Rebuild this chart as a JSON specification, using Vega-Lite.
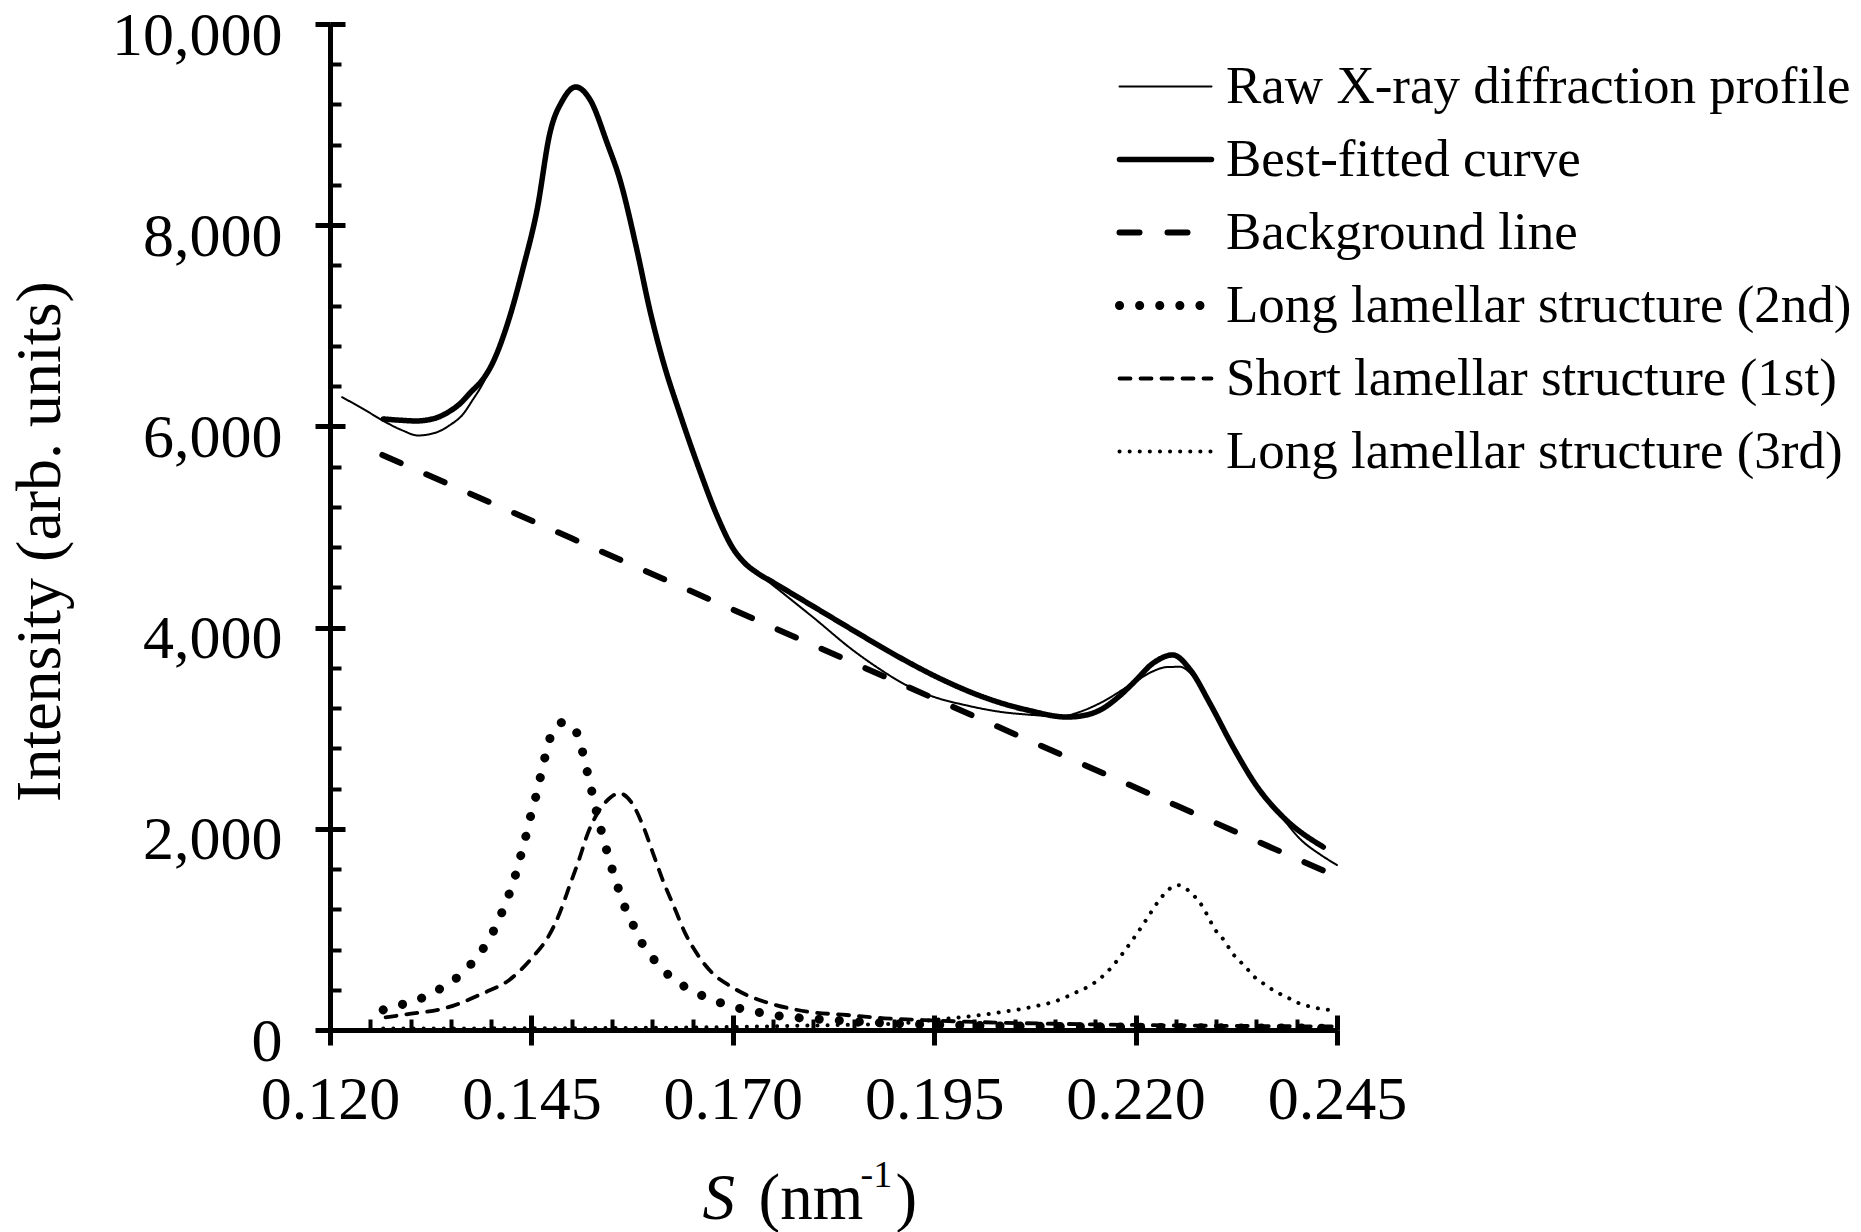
{
  "$schema": "https://vega.github.io/schema/vega-lite/v6.json",
  "width": 1007,
  "height": 1006,
  "autosize": {"type": "none"},
  "padding": {"left": 330, "top": 24, "right": 524, "bottom": 202},
  "background": "white",
  "config": {"view": {"stroke": null}, "axis": {"grid": false, "domainColor": "black", "tickColor": "black", "labelColor": "black", "titleColor": "black", "labelFont": "Liberation Serif", "titleFont": "Liberation Serif", "titleFontWeight": "normal"}},
  "data": {"values": [
    {"S": 0.1215, "I": 6290, "series": "Raw X-ray diffraction profile"},
    {"S": 0.124, "I": 6180, "series": "Raw X-ray diffraction profile"},
    {"S": 0.1265, "I": 6060, "series": "Raw X-ray diffraction profile"},
    {"S": 0.129, "I": 5960, "series": "Raw X-ray diffraction profile"},
    {"S": 0.1309, "I": 5910, "series": "Raw X-ray diffraction profile"},
    {"S": 0.133, "I": 5935, "series": "Raw X-ray diffraction profile"},
    {"S": 0.1349, "I": 6014, "series": "Raw X-ray diffraction profile"},
    {"S": 0.1365, "I": 6120, "series": "Raw X-ray diffraction profile"},
    {"S": 0.1377, "I": 6262, "series": "Raw X-ray diffraction profile"},
    {"S": 0.139, "I": 6430, "series": "Raw X-ray diffraction profile"},
    {"S": 0.1402, "I": 6640, "series": "Raw X-ray diffraction profile"},
    {"S": 0.1423, "I": 7060, "series": "Raw X-ray diffraction profile"},
    {"S": 0.144, "I": 7560, "series": "Raw X-ray diffraction profile"},
    {"S": 0.1457, "I": 8150, "series": "Raw X-ray diffraction profile"},
    {"S": 0.1473, "I": 8880, "series": "Raw X-ray diffraction profile"},
    {"S": 0.1489, "I": 9230, "series": "Raw X-ray diffraction profile"},
    {"S": 0.1505, "I": 9360, "series": "Raw X-ray diffraction profile"},
    {"S": 0.1523, "I": 9230, "series": "Raw X-ray diffraction profile"},
    {"S": 0.1544, "I": 8790, "series": "Raw X-ray diffraction profile"},
    {"S": 0.156, "I": 8420, "series": "Raw X-ray diffraction profile"},
    {"S": 0.1581, "I": 7720, "series": "Raw X-ray diffraction profile"},
    {"S": 0.1597, "I": 7130, "series": "Raw X-ray diffraction profile"},
    {"S": 0.1613, "I": 6630, "series": "Raw X-ray diffraction profile"},
    {"S": 0.1635, "I": 6090, "series": "Raw X-ray diffraction profile"},
    {"S": 0.1659, "I": 5540, "series": "Raw X-ray diffraction profile"},
    {"S": 0.168, "I": 5100, "series": "Raw X-ray diffraction profile"},
    {"S": 0.17, "I": 4770, "series": "Raw X-ray diffraction profile"},
    {"S": 0.1715, "I": 4630, "series": "Raw X-ray diffraction profile"},
    {"S": 0.1734, "I": 4520, "series": "Raw X-ray diffraction profile"},
    {"S": 0.175, "I": 4420, "series": "Raw X-ray diffraction profile"},
    {"S": 0.18, "I": 4100, "series": "Raw X-ray diffraction profile"},
    {"S": 0.185, "I": 3770, "series": "Raw X-ray diffraction profile"},
    {"S": 0.188, "I": 3600, "series": "Raw X-ray diffraction profile"},
    {"S": 0.1908, "I": 3460, "series": "Raw X-ray diffraction profile"},
    {"S": 0.193, "I": 3370, "series": "Raw X-ray diffraction profile"},
    {"S": 0.195, "I": 3310, "series": "Raw X-ray diffraction profile"},
    {"S": 0.1991, "I": 3225, "series": "Raw X-ray diffraction profile"},
    {"S": 0.203, "I": 3165, "series": "Raw X-ray diffraction profile"},
    {"S": 0.2073, "I": 3131, "series": "Raw X-ray diffraction profile"},
    {"S": 0.2106, "I": 3115, "series": "Raw X-ray diffraction profile"},
    {"S": 0.213, "I": 3160, "series": "Raw X-ray diffraction profile"},
    {"S": 0.2156, "I": 3250, "series": "Raw X-ray diffraction profile"},
    {"S": 0.2197, "I": 3449, "series": "Raw X-ray diffraction profile"},
    {"S": 0.222, "I": 3560, "series": "Raw X-ray diffraction profile"},
    {"S": 0.2239, "I": 3608, "series": "Raw X-ray diffraction profile"},
    {"S": 0.2255, "I": 3610, "series": "Raw X-ray diffraction profile"},
    {"S": 0.2271, "I": 3520, "series": "Raw X-ray diffraction profile"},
    {"S": 0.229, "I": 3270, "series": "Raw X-ray diffraction profile"},
    {"S": 0.2321, "I": 2790, "series": "Raw X-ray diffraction profile"},
    {"S": 0.2354, "I": 2390, "series": "Raw X-ray diffraction profile"},
    {"S": 0.238, "I": 2130, "series": "Raw X-ray diffraction profile"},
    {"S": 0.2404, "I": 1900, "series": "Raw X-ray diffraction profile"},
    {"S": 0.243, "I": 1740, "series": "Raw X-ray diffraction profile"},
    {"S": 0.245, "I": 1640, "series": "Raw X-ray diffraction profile"},

    {"S": 0.1266, "I": 6074, "series": "Best-fitted curve"},
    {"S": 0.129, "I": 6060, "series": "Best-fitted curve"},
    {"S": 0.1307, "I": 6054, "series": "Best-fitted curve"},
    {"S": 0.133, "I": 6080, "series": "Best-fitted curve"},
    {"S": 0.1347, "I": 6143, "series": "Best-fitted curve"},
    {"S": 0.1362, "I": 6230, "series": "Best-fitted curve"},
    {"S": 0.1375, "I": 6342, "series": "Best-fitted curve"},
    {"S": 0.139, "I": 6470, "series": "Best-fitted curve"},
    {"S": 0.14, "I": 6600, "series": "Best-fitted curve"},
    {"S": 0.1423, "I": 7088, "series": "Best-fitted curve"},
    {"S": 0.144, "I": 7584, "series": "Best-fitted curve"},
    {"S": 0.1457, "I": 8151, "series": "Best-fitted curve"},
    {"S": 0.1473, "I": 8917, "series": "Best-fitted curve"},
    {"S": 0.1489, "I": 9245, "series": "Best-fitted curve"},
    {"S": 0.1505, "I": 9374, "series": "Best-fitted curve"},
    {"S": 0.1523, "I": 9245, "series": "Best-fitted curve"},
    {"S": 0.1544, "I": 8817, "series": "Best-fitted curve"},
    {"S": 0.156, "I": 8449, "series": "Best-fitted curve"},
    {"S": 0.1581, "I": 7753, "series": "Best-fitted curve"},
    {"S": 0.1597, "I": 7157, "series": "Best-fitted curve"},
    {"S": 0.1613, "I": 6660, "series": "Best-fitted curve"},
    {"S": 0.1635, "I": 6110, "series": "Best-fitted curve"},
    {"S": 0.1659, "I": 5560, "series": "Best-fitted curve"},
    {"S": 0.168, "I": 5120, "series": "Best-fitted curve"},
    {"S": 0.17, "I": 4790, "series": "Best-fitted curve"},
    {"S": 0.1715, "I": 4640, "series": "Best-fitted curve"},
    {"S": 0.173, "I": 4545, "series": "Best-fitted curve"},
    {"S": 0.175, "I": 4450, "series": "Best-fitted curve"},
    {"S": 0.1775, "I": 4330, "series": "Best-fitted curve"},
    {"S": 0.18, "I": 4210, "series": "Best-fitted curve"},
    {"S": 0.185, "I": 3970, "series": "Best-fitted curve"},
    {"S": 0.19, "I": 3735, "series": "Best-fitted curve"},
    {"S": 0.1961, "I": 3479, "series": "Best-fitted curve"},
    {"S": 0.2011, "I": 3310, "series": "Best-fitted curve"},
    {"S": 0.2065, "I": 3181, "series": "Best-fitted curve"},
    {"S": 0.2115, "I": 3111, "series": "Best-fitted curve"},
    {"S": 0.2135, "I": 3125, "series": "Best-fitted curve"},
    {"S": 0.2156, "I": 3181, "series": "Best-fitted curve"},
    {"S": 0.218, "I": 3320, "series": "Best-fitted curve"},
    {"S": 0.2197, "I": 3449, "series": "Best-fitted curve"},
    {"S": 0.2222, "I": 3648, "series": "Best-fitted curve"},
    {"S": 0.2246, "I": 3728, "series": "Best-fitted curve"},
    {"S": 0.2268, "I": 3579, "series": "Best-fitted curve"},
    {"S": 0.2292, "I": 3250, "series": "Best-fitted curve"},
    {"S": 0.2321, "I": 2813, "series": "Best-fitted curve"},
    {"S": 0.2351, "I": 2416, "series": "Best-fitted curve"},
    {"S": 0.2383, "I": 2117, "series": "Best-fitted curve"},
    {"S": 0.2433, "I": 1819, "series": "Best-fitted curve"},

    {"S": 0.1265, "I": 5716, "series": "Background line"},
    {"S": 0.15, "I": 4887, "series": "Background line"},
    {"S": 0.175, "I": 4002, "series": "Background line"},
    {"S": 0.2, "I": 3118, "series": "Background line"},
    {"S": 0.225, "I": 2233, "series": "Background line"},
    {"S": 0.245, "I": 1525, "series": "Background line"},

    {"S": 0.1266, "I": 200, "series": "Long lamellar structure (2nd)"},
    {"S": 0.1294, "I": 265, "series": "Long lamellar structure (2nd)"},
    {"S": 0.132, "I": 338, "series": "Long lamellar structure (2nd)"},
    {"S": 0.1342, "I": 437, "series": "Long lamellar structure (2nd)"},
    {"S": 0.1364, "I": 563, "series": "Long lamellar structure (2nd)"},
    {"S": 0.1382, "I": 722, "series": "Long lamellar structure (2nd)"},
    {"S": 0.1397, "I": 895, "series": "Long lamellar structure (2nd)"},
    {"S": 0.1409, "I": 1087, "series": "Long lamellar structure (2nd)"},
    {"S": 0.1419, "I": 1282, "series": "Long lamellar structure (2nd)"},
    {"S": 0.1428, "I": 1481, "series": "Long lamellar structure (2nd)"},
    {"S": 0.1435, "I": 1683, "series": "Long lamellar structure (2nd)"},
    {"S": 0.1442, "I": 1889, "series": "Long lamellar structure (2nd)"},
    {"S": 0.1448, "I": 2094, "series": "Long lamellar structure (2nd)"},
    {"S": 0.1455, "I": 2303, "series": "Long lamellar structure (2nd)"},
    {"S": 0.1461, "I": 2508, "series": "Long lamellar structure (2nd)"},
    {"S": 0.1467, "I": 2717, "series": "Long lamellar structure (2nd)"},
    {"S": 0.1474, "I": 2922, "series": "Long lamellar structure (2nd)"},
    {"S": 0.1482, "I": 3025, "series": "Long lamellar structure (2nd)"},
    {"S": 0.149, "I": 3060, "series": "Long lamellar structure (2nd)"},
    {"S": 0.1499, "I": 3030, "series": "Long lamellar structure (2nd)"},
    {"S": 0.1508, "I": 2922, "series": "Long lamellar structure (2nd)"},
    {"S": 0.1515, "I": 2717, "series": "Long lamellar structure (2nd)"},
    {"S": 0.1521, "I": 2508, "series": "Long lamellar structure (2nd)"},
    {"S": 0.1527, "I": 2303, "series": "Long lamellar structure (2nd)"},
    {"S": 0.1533, "I": 2094, "series": "Long lamellar structure (2nd)"},
    {"S": 0.154, "I": 1889, "series": "Long lamellar structure (2nd)"},
    {"S": 0.1547, "I": 1683, "series": "Long lamellar structure (2nd)"},
    {"S": 0.1555, "I": 1481, "series": "Long lamellar structure (2nd)"},
    {"S": 0.1563, "I": 1282, "series": "Long lamellar structure (2nd)"},
    {"S": 0.1574, "I": 1087, "series": "Long lamellar structure (2nd)"},
    {"S": 0.1585, "I": 895, "series": "Long lamellar structure (2nd)"},
    {"S": 0.16, "I": 722, "series": "Long lamellar structure (2nd)"},
    {"S": 0.1618, "I": 563, "series": "Long lamellar structure (2nd)"},
    {"S": 0.1639, "I": 437, "series": "Long lamellar structure (2nd)"},
    {"S": 0.1663, "I": 338, "series": "Long lamellar structure (2nd)"},
    {"S": 0.1687, "I": 265, "series": "Long lamellar structure (2nd)"},
    {"S": 0.1713, "I": 206, "series": "Long lamellar structure (2nd)"},
    {"S": 0.1739, "I": 166, "series": "Long lamellar structure (2nd)"},
    {"S": 0.1765, "I": 132, "series": "Long lamellar structure (2nd)"},
    {"S": 0.1791, "I": 116, "series": "Long lamellar structure (2nd)"},
    {"S": 0.185, "I": 85, "series": "Long lamellar structure (2nd)"},
    {"S": 0.19, "I": 65, "series": "Long lamellar structure (2nd)"},
    {"S": 0.2, "I": 45, "series": "Long lamellar structure (2nd)"},
    {"S": 0.21, "I": 35, "series": "Long lamellar structure (2nd)"},
    {"S": 0.22, "I": 28, "series": "Long lamellar structure (2nd)"},
    {"S": 0.23, "I": 22, "series": "Long lamellar structure (2nd)"},
    {"S": 0.245, "I": 18, "series": "Long lamellar structure (2nd)"},

    {"S": 0.1269, "I": 126, "series": "Short lamellar structure (1st)"},
    {"S": 0.1295, "I": 156, "series": "Short lamellar structure (1st)"},
    {"S": 0.1342, "I": 215, "series": "Short lamellar structure (1st)"},
    {"S": 0.139, "I": 365, "series": "Short lamellar structure (1st)"},
    {"S": 0.1423, "I": 500, "series": "Short lamellar structure (1st)"},
    {"S": 0.1452, "I": 729, "series": "Short lamellar structure (1st)"},
    {"S": 0.1471, "I": 928, "series": "Short lamellar structure (1st)"},
    {"S": 0.1485, "I": 1160, "series": "Short lamellar structure (1st)"},
    {"S": 0.1497, "I": 1425, "series": "Short lamellar structure (1st)"},
    {"S": 0.1509, "I": 1690, "series": "Short lamellar structure (1st)"},
    {"S": 0.152, "I": 1955, "series": "Short lamellar structure (1st)"},
    {"S": 0.1532, "I": 2154, "series": "Short lamellar structure (1st)"},
    {"S": 0.1547, "I": 2303, "series": "Short lamellar structure (1st)"},
    {"S": 0.1559, "I": 2353, "series": "Short lamellar structure (1st)"},
    {"S": 0.1575, "I": 2253, "series": "Short lamellar structure (1st)"},
    {"S": 0.1589, "I": 2021, "series": "Short lamellar structure (1st)"},
    {"S": 0.1601, "I": 1756, "series": "Short lamellar structure (1st)"},
    {"S": 0.1613, "I": 1491, "series": "Short lamellar structure (1st)"},
    {"S": 0.1627, "I": 1226, "series": "Short lamellar structure (1st)"},
    {"S": 0.1641, "I": 961, "series": "Short lamellar structure (1st)"},
    {"S": 0.1658, "I": 729, "series": "Short lamellar structure (1st)"},
    {"S": 0.1675, "I": 563, "series": "Short lamellar structure (1st)"},
    {"S": 0.1698, "I": 431, "series": "Short lamellar structure (1st)"},
    {"S": 0.1722, "I": 331, "series": "Short lamellar structure (1st)"},
    {"S": 0.1746, "I": 265, "series": "Short lamellar structure (1st)"},
    {"S": 0.1793, "I": 182, "series": "Short lamellar structure (1st)"},
    {"S": 0.1841, "I": 149, "series": "Short lamellar structure (1st)"},
    {"S": 0.1888, "I": 116, "series": "Short lamellar structure (1st)"},
    {"S": 0.1936, "I": 99, "series": "Short lamellar structure (1st)"},
    {"S": 0.2, "I": 80, "series": "Short lamellar structure (1st)"},
    {"S": 0.21, "I": 62, "series": "Short lamellar structure (1st)"},
    {"S": 0.22, "I": 50, "series": "Short lamellar structure (1st)"},
    {"S": 0.23, "I": 42, "series": "Short lamellar structure (1st)"},
    {"S": 0.245, "I": 35, "series": "Short lamellar structure (1st)"},

    {"S": 0.1266, "I": 15, "series": "Long lamellar structure (3rd)"},
    {"S": 0.15, "I": 18, "series": "Long lamellar structure (3rd)"},
    {"S": 0.17, "I": 30, "series": "Long lamellar structure (3rd)"},
    {"S": 0.18, "I": 45, "series": "Long lamellar structure (3rd)"},
    {"S": 0.1908, "I": 66, "series": "Long lamellar structure (3rd)"},
    {"S": 0.1949, "I": 99, "series": "Long lamellar structure (3rd)"},
    {"S": 0.199, "I": 132, "series": "Long lamellar structure (3rd)"},
    {"S": 0.2032, "I": 176, "series": "Long lamellar structure (3rd)"},
    {"S": 0.2073, "I": 232, "series": "Long lamellar structure (3rd)"},
    {"S": 0.2102, "I": 290, "series": "Long lamellar structure (3rd)"},
    {"S": 0.2125, "I": 370, "series": "Long lamellar structure (3rd)"},
    {"S": 0.2148, "I": 464, "series": "Long lamellar structure (3rd)"},
    {"S": 0.2167, "I": 596, "series": "Long lamellar structure (3rd)"},
    {"S": 0.2184, "I": 762, "series": "Long lamellar structure (3rd)"},
    {"S": 0.2199, "I": 927, "series": "Long lamellar structure (3rd)"},
    {"S": 0.2213, "I": 1093, "series": "Long lamellar structure (3rd)"},
    {"S": 0.2227, "I": 1265, "series": "Long lamellar structure (3rd)"},
    {"S": 0.2237, "I": 1365, "series": "Long lamellar structure (3rd)"},
    {"S": 0.2246, "I": 1425, "series": "Long lamellar structure (3rd)"},
    {"S": 0.2253, "I": 1440, "series": "Long lamellar structure (3rd)"},
    {"S": 0.226, "I": 1420, "series": "Long lamellar structure (3rd)"},
    {"S": 0.227, "I": 1352, "series": "Long lamellar structure (3rd)"},
    {"S": 0.2279, "I": 1276, "series": "Long lamellar structure (3rd)"},
    {"S": 0.2286, "I": 1186, "series": "Long lamellar structure (3rd)"},
    {"S": 0.2292, "I": 1093, "series": "Long lamellar structure (3rd)"},
    {"S": 0.2299, "I": 994, "series": "Long lamellar structure (3rd)"},
    {"S": 0.2307, "I": 921, "series": "Long lamellar structure (3rd)"},
    {"S": 0.2315, "I": 828, "series": "Long lamellar structure (3rd)"},
    {"S": 0.2321, "I": 755, "series": "Long lamellar structure (3rd)"},
    {"S": 0.233, "I": 679, "series": "Long lamellar structure (3rd)"},
    {"S": 0.2339, "I": 603, "series": "Long lamellar structure (3rd)"},
    {"S": 0.2348, "I": 524, "series": "Long lamellar structure (3rd)"},
    {"S": 0.2359, "I": 460, "series": "Long lamellar structure (3rd)"},
    {"S": 0.2369, "I": 405, "series": "Long lamellar structure (3rd)"},
    {"S": 0.2379, "I": 360, "series": "Long lamellar structure (3rd)"},
    {"S": 0.2393, "I": 305, "series": "Long lamellar structure (3rd)"},
    {"S": 0.2404, "I": 262, "series": "Long lamellar structure (3rd)"},
    {"S": 0.2417, "I": 232, "series": "Long lamellar structure (3rd)"},
    {"S": 0.243, "I": 210, "series": "Long lamellar structure (3rd)"},
    {"S": 0.245, "I": 195, "series": "Long lamellar structure (3rd)"}
  ]},
  "resolve": {"axis": {"x": "independent", "y": "independent"}},
  "layer": [
    {
      "mark": {"type": "line", "interpolate": "monotone", "color": "black", "strokeCap": "round", "strokeJoin": "round"},
      "encoding": {
        "x": {"field": "S", "type": "quantitative", "scale": {"domain": [0.12, 0.245], "nice": false, "zero": false},
          "axis": {"orient": "bottom", "values": [0.12, 0.145, 0.17, 0.195, 0.22, 0.245], "format": ".3f", "labelFlush": false, "labelOverlap": false, "labelFontSize": 62, "labelPadding": 24, "tickSize": 15, "tickWidth": 5, "domainWidth": 5,
            "title": "S", "titleFontStyle": "italic", "titleFontSize": 65, "titleX": 372, "titleY": 188, "titleAlign": "left", "titleBaseline": "alphabetic", "titleAnchor": "start"}},
        "y": {"field": "I", "type": "quantitative", "scale": {"domain": [0, 10000], "nice": false, "zero": false},
          "axis": {"orient": "left", "values": [0, 2000, 4000, 6000, 8000, 10000], "format": ",d", "labelFontSize": 62, "labelPadding": 33, "labelOffset": 11, "tickSize": 15, "tickWidth": 5, "domainWidth": 5,
            "title": "Intensity (arb. units)", "titleFontSize": 64, "titleX": -290, "titleY": 517, "titleAngle": -90, "titleAlign": "center", "titleBaseline": "middle"}},
        "strokeDash": {"field": "series", "type": "nominal",
          "scale": {"domain": ["Raw X-ray diffraction profile", "Best-fitted curve", "Background line", "Long lamellar structure (2nd)", "Short lamellar structure (1st)", "Long lamellar structure (3rd)"],
                    "range": [[1, 0], [1, 0], [20, 28], [0.1, 20], [11, 10], [0.1, 10]]},
          "legend": {"title": null, "orient": "none", "legendX": 809, "legendY": 36, "symbolType": "M-4,0H4", "symbolSize": 529, "symbolStrokeColor": "black", "labelFont": "Liberation Serif", "labelFontSize": 53, "labelColor": "black", "labelOffset": 34, "labelLimit": 0, "rowPadding": 19, "padding": 0,
            "encoding": {"symbols": {"strokeCap": {"value": "round"}}}}},
        "strokeWidth": {"field": "series", "type": "nominal",
          "scale": {"type": "ordinal", "domain": ["Raw X-ray diffraction profile", "Best-fitted curve", "Background line", "Long lamellar structure (2nd)", "Short lamellar structure (1st)", "Long lamellar structure (3rd)"],
                    "range": [2, 5.5, 6, 9, 3.8, 4]},
          "legend": {"title": null, "orient": "none", "legendX": 809, "legendY": 36, "symbolType": "M-4,0H4", "symbolSize": 529, "symbolStrokeColor": "black", "labelFont": "Liberation Serif", "labelFontSize": 53, "labelColor": "black", "labelOffset": 34, "labelLimit": 0, "rowPadding": 19, "padding": 0,
            "encoding": {"symbols": {"strokeCap": {"value": "round"}}}}}
      }
    },
    {
      "mark": {"type": "point", "opacity": 0},
      "encoding": {
        "x": {"field": "S", "type": "quantitative", "axis": {"orient": "bottom", "values": [0.12, 0.145, 0.17, 0.195, 0.22, 0.245], "offset": -15, "tickSize": 15, "tickWidth": 5, "labels": false, "domain": false,
          "title": "(nm", "titleFontSize": 65, "titleX": 428, "titleY": 203, "titleAlign": "left", "titleBaseline": "alphabetic", "titleAnchor": "start"}},
        "y": {"field": "I", "type": "quantitative", "axis": {"orient": "left", "values": [0, 2000, 4000, 6000, 8000, 10000], "offset": -15, "tickSize": 15, "tickWidth": 5, "labels": false, "domain": false, "title": null}}
      }
    },
    {
      "mark": {"type": "point", "opacity": 0},
      "encoding": {
        "x": {"field": "S", "type": "quantitative", "axis": {"orient": "bottom", "values": [0.12, 0.125, 0.13, 0.135, 0.14, 0.145, 0.15, 0.155, 0.16, 0.165, 0.17, 0.175, 0.18, 0.185, 0.19, 0.195, 0.2, 0.205, 0.21, 0.215, 0.22, 0.225, 0.23, 0.235, 0.24, 0.245], "offset": -11, "tickSize": 11, "tickWidth": 4, "labels": false, "domain": false,
          "title": "-1", "titleFontSize": 38, "titleX": 530, "titleY": 167, "titleAlign": "left", "titleBaseline": "alphabetic", "titleAnchor": "start"}},
        "y": {"field": "I", "type": "quantitative", "axis": {"orient": "left", "values": [0, 400, 800, 1200, 1600, 2000, 2400, 2800, 3200, 3600, 4000, 4400, 4800, 5200, 5600, 6000, 6400, 6800, 7200, 7600, 8000, 8400, 8800, 9200, 9600, 10000], "offset": -11, "tickSize": 11, "tickWidth": 4, "labels": false, "domain": false, "title": null}}
      }
    },
    {
      "mark": {"type": "point", "opacity": 0},
      "encoding": {
        "x": {"field": "S", "type": "quantitative", "axis": {"orient": "bottom", "ticks": false, "labels": false, "domain": false,
          "title": ")", "titleFontSize": 65, "titleX": 565, "titleY": 188, "titleAlign": "left", "titleBaseline": "alphabetic", "titleAnchor": "start"}},
        "y": {"field": "I", "type": "quantitative", "axis": null}
      }
    }
  ]
}
